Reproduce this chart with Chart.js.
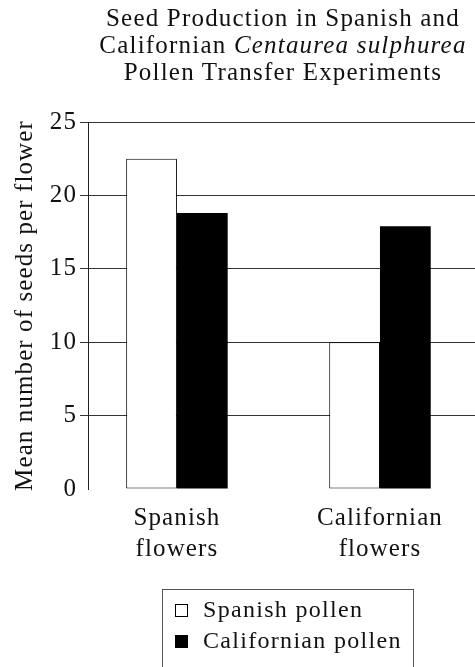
<!DOCTYPE html>
<html>
<head>
<meta charset="utf-8">
<script src="https://cdn.jsdelivr.net/npm/chart.js@4.4.1/dist/chart.umd.min.js"></script>
<style>
  html, body { margin: 0; padding: 0; background: #fff; }
  body { width: 475px; height: 667px; position: relative; overflow: hidden;
         font-family: 'Liberation Serif', serif; color: #111; }
  #wrap { position: absolute; left: 0; top: 0; width: 475px; height: 667px; }
  #title { position: absolute; left: 88px; top: 4px; width: 390px; text-align: center;
           font-size: 25px; line-height: 27px; letter-spacing: 1.2px; }
  #legend { position: absolute; left: 162px; top: 589px; width: 252px; height: 90px;
            border: 1px solid #555; border-bottom: none; padding: 4px 0 0 12px;
            box-sizing: border-box; font-size: 24px; letter-spacing: 1.3px; }
  .row { height: 31px; line-height: 31px; white-space: nowrap; }
  .sw { display: inline-block; width: 11px; height: 11px; border: 1px solid #000;
        margin-right: 15px; vertical-align: baseline; }
</style>
</head>
<body>
<div id="wrap"><canvas id="chart"></canvas></div>
<div id="title">Seed Production in Spanish and<br>Californian <i>Centaurea sulphurea</i><br>Pollen Transfer Experiments</div>
<div id="legend"></div>
<script>
// data
const categories        = ['Spanish flowers', 'Californian flowers'];
const seriesNames       = ['Spanish pollen', 'Californian pollen'];
const spanishPollen     = [22.5, 10];
const californianPollen = [18.8, 17.9];
const yTicks            = [0, 5, 10, 15, 20, 25];
const seriesFill        = ['#FFFFFF', '#000000'];

Chart.defaults.font.family = "'Liberation Serif', serif";
Chart.defaults.font.size   = 25;
Chart.defaults.color       = '#111';

const INK = '#333';

// canvas letter spacing so the serif text is as wide as the original
const spacing = {
  id: 'spacing',
  beforeDraw(chart) { chart.ctx.letterSpacing = '1.1px'; },
};

function points(values) {
  return values.map((y, i) => ({ x: i, y }));
}

const chart = new Chart(document.getElementById('chart'), {
  type: 'bar',
  data: {
    datasets: [
      { label: seriesNames[0], data: points(spanishPollen), backgroundColor: seriesFill[0],
        borderColor: '#000', borderWidth: 1, borderSkipped: false },
      { label: seriesNames[1], data: points(californianPollen), backgroundColor: seriesFill[1],
        borderColor: '#000', borderWidth: 0, borderSkipped: false },
    ],
  },
  plugins: [spacing],
  options: {
    responsive: true,
    maintainAspectRatio: false,
    animation: false,
    layout: { padding: { top: 122, left: 0, right: 0, bottom: 0 } },
    categoryPercentage: 0.5,
    barPercentage: 1,
    plugins: { legend: { display: false }, title: { display: false }, tooltip: { enabled: false } },
    scales: {
      x: {
        type: 'linear',
        offset: false,
        min: -0.438, max: 1.468,
        afterBuildTicks: s => { s.ticks = categories.map((_, i) => ({ value: i })); },
        afterFit: s => { s.height = 178; },
        grid: { display: false, drawTicks: false, offset: false },
        border: { display: false },
        ticks: {
          autoSkip: false, maxRotation: 0, padding: 14,
          font: { size: 25, lineHeight: '31px' },
          callback: v => categories[v] ? categories[v].split(' ') : '',
        },
      },
      y: {
        min: 0, max: 25,
        afterBuildTicks: s => { s.ticks = yTicks.map(v => ({ value: v })); },
        afterFit: s => { s.width = 88; },
        grid: {
          color:     c => c.tick && c.tick.value === 0 ? 'rgba(0,0,0,0)' : INK,
          tickColor: c => c.tick && c.tick.value === 0 ? 'rgba(0,0,0,0)' : INK,
          tickLength: 8, lineWidth: 1,
        },
        border: { display: true, color: '#222', width: 1 },
        ticks: { padding: 3, font: { size: 25 } },
        title: {
          display: true, text: 'Mean number of seeds per flower',
          font: { size: 25 }, padding: { top: 10, bottom: 0 },
        },
      },
    },
  },
});

// legend box built from the chart's datasets
document.getElementById('legend').innerHTML = chart.data.datasets.map(ds =>
  `<div class="row"><span class="sw" style="background:${ds.backgroundColor}"></span>${ds.label}</div>`
).join('');
</script>
</body>
</html>
